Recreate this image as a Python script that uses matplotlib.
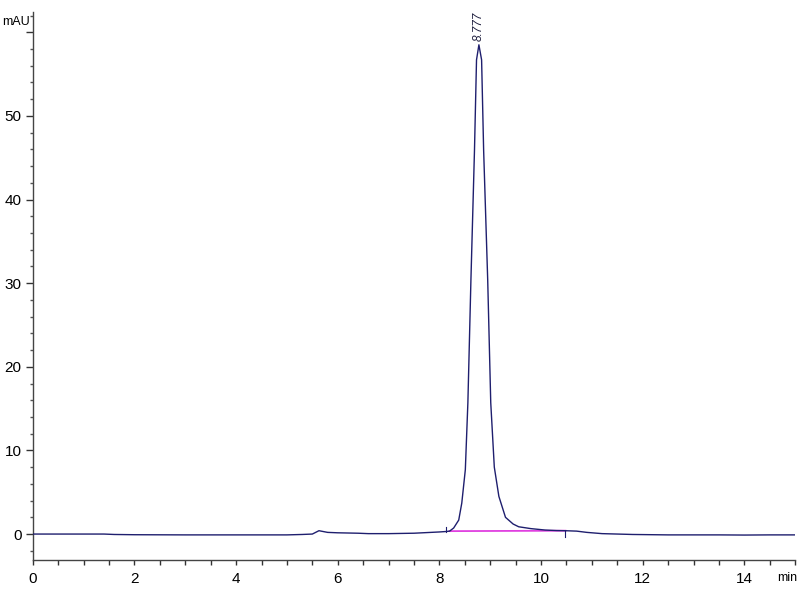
import matplotlib
matplotlib.use("Agg")
import matplotlib.pyplot as plt
from matplotlib.ticker import MultipleLocator

# Chromatogram trace (min, mAU)
times = [0.0, 0.5, 1.0, 1.4, 1.6, 2.0, 3.0, 4.0, 5.0, 5.3, 5.5, 5.63, 5.8,
         6.0, 6.4, 6.6, 7.0, 7.5, 8.0, 8.12, 8.2, 8.28, 8.38, 8.44, 8.51,
         8.56, 8.62, 8.69, 8.73, 8.777, 8.83, 8.87, 8.95, 9.01, 9.08, 9.17,
         9.3, 9.45, 9.56, 9.8, 10.08, 10.3, 10.48, 10.7, 10.9, 11.2, 11.8,
         12.5, 13.5, 14.0, 14.5, 15.0]
signal = [0.0, 0.0, 0.0, 0.0, -0.05, -0.08, -0.1, -0.1, -0.1, -0.05, 0.0,
          0.4, 0.2, 0.15, 0.1, 0.05, 0.05, 0.1, 0.25, 0.3, 0.35, 0.72, 1.67,
          3.7, 7.7, 15.7, 30.4, 45.9, 56.7, 58.5, 56.7, 45.9, 30.4, 15.7,
          8.0, 4.5, 2.0, 1.2, 0.87, 0.65, 0.48, 0.42, 0.4, 0.35, 0.2, 0.05,
          -0.05, -0.1, -0.1, -0.12, -0.1, -0.1]

peak_time = 8.777
peak_height = 58.5
peak_label = "8.777"

# integration baseline
base_t = [8.2, 10.48]
base_v = [0.35, 0.4]

x_ticks = [0, 2, 4, 6, 8, 10, 12, 14]
y_ticks = [0, 10, 20, 30, 40, 50, 60]
y_ticklabels = ["0", "10", "20", "30", "40", "50", ""]

plt.rcParams['font.family'] = ['Liberation Sans', 'DejaVu Sans']

fig = plt.figure(figsize=(8, 6), dpi=100)
ax = fig.add_axes([0.041, 0.0667, 0.953, 0.913])

ax.plot(times, signal, color='#1e1e6e', lw=1.0, zorder=3)
ax.plot(base_t, base_v, color='#e040e0', lw=1.3, zorder=2)
# start/end markers
ax.plot([8.12, 8.12], [0.3, 0.9], color='#1e1e6e', lw=0.8)
ax.plot([10.48, 10.48], [0.4, -0.3], color='#1e1e6e', lw=0.8)

ax.text(peak_time, peak_height + 0.4, peak_label, rotation=90, ha='center',
        va='bottom', fontsize=8.5, style='italic', color='#1e1e3e')

ax.set_xlim(0, 15)
ax.set_ylim(-3.1, 62.4)
ax.set_xticks(x_ticks)
ax.xaxis.set_minor_locator(MultipleLocator(0.5))
ax.set_yticks(y_ticks)
ax.set_yticklabels(y_ticklabels)
ax.yaxis.set_minor_locator(MultipleLocator(2))

for s in ['top', 'right']:
    ax.spines[s].set_visible(False)
for s in ['left', 'bottom']:
    ax.spines[s].set_color('#444444')
    ax.spines[s].set_linewidth(1.0)

ax.tick_params(axis='y', which='major', direction='out', length=5, width=1,
               color='#333333', labelsize=11, pad=3)
ax.tick_params(axis='y', which='minor', direction='out', length=2.5, width=1,
               color='#555555')
ax.tick_params(axis='x', which='both', direction='out', length=3.5, width=1,
               color='#333333', labelsize=11, pad=5)

fig.text(2 / 800, 1 - 22 / 600, "mAU", ha='left', va='center', fontsize=9)
fig.text(797 / 800, 1 - 578 / 600, "min", ha='right', va='center', fontsize=9)

fig.savefig("out.png", dpi=100)
